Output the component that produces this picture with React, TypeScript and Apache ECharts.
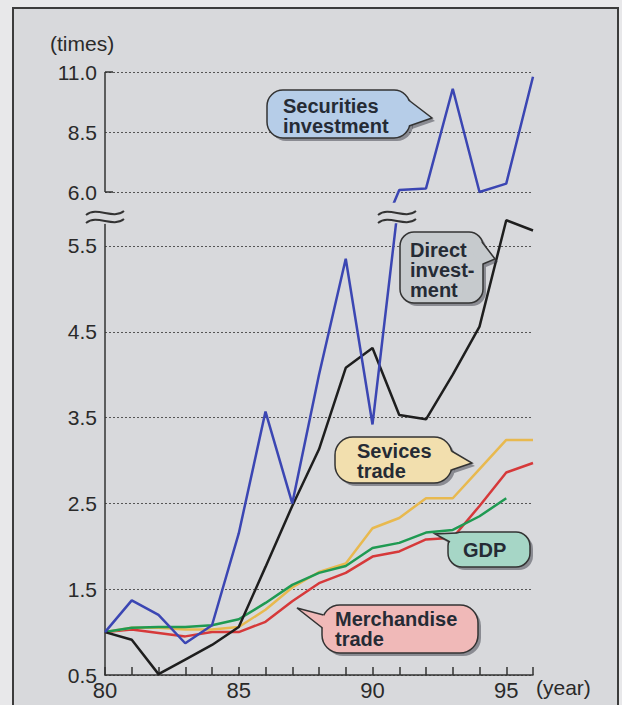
import React, { useEffect, useRef } from 'react';
import * as echarts from 'echarts';

// ---- data ----
const years = [80, 81, 82, 83, 84, 85, 86, 87, 88, 89, 90, 91, 92, 93, 94, 95, 96];
const securities = [1.0, 1.37, 1.2, 0.87, 1.08, 2.15, 3.57, 2.5, 4.0, 5.35, 3.42, 6.08, 6.15, 10.3, 6.0, 6.35, 10.8];
const direct = [1.0, 0.91, 0.51, 0.68, 0.85, 1.06, 1.76, 2.47, 3.13, 4.08, 4.31, 3.53, 3.48, 4.0, 4.56, 5.8, 5.68];
const services = [1.0, 1.05, 1.05, 1.03, 1.03, 1.06, 1.26, 1.52, 1.7, 1.8, 2.21, 2.33, 2.56, 2.56, 2.9, 3.24, 3.24];
const gdp = [1.0, 1.05, 1.06, 1.06, 1.08, 1.15, 1.34, 1.55, 1.69, 1.77, 1.98, 2.04, 2.16, 2.19, 2.35, 2.56];
const merchandise = [1.0, 1.03, 0.99, 0.95, 1.0, 1.0, 1.12, 1.36, 1.57, 1.69, 1.88, 1.94, 2.08, 2.1, 2.47, 2.86, 2.97];

const yTicksLower = [0.5, 1.5, 2.5, 3.5, 4.5, 5.5];
const yTicksUpper = [6.0, 8.5, 11.0];
const xLabelYears = [80, 85, 90, 95];

const FONT = '"Liberation Sans", Arial, Helvetica, sans-serif';
const AXIS = '#333333';
const LABEL = '#2a2a2a';

function pairs(vals: number[]) {
  return vals.map((v, i) => [years[i], v]);
}

function callout(
  rect: [number, number, number, number],
  r: number,
  fill: string,
  tail: number[][],
  inner: number[],
  text: string,
  tx: number,
  ty: number,
  lh: number
) {
  const [x, y, w, h] = rect;
  const sh = 3;
  const shadow = 'rgba(60,62,72,0.5)';
  return [
    { type: 'rect', z: 50, shape: { x: x + sh, y: y + sh, width: w, height: h, r }, style: { fill: shadow } },
    { type: 'polygon', z: 50, shape: { points: tail.map((p) => [p[0] + sh, p[1] + sh]) }, style: { fill: shadow } },
    { type: 'rect', z: 51, shape: { x, y, width: w, height: h, r }, style: { fill, stroke: '#333', lineWidth: 1.5 } },
    { type: 'polygon', z: 52, shape: { points: [tail[0], tail[1], tail[2], inner] }, style: { fill } },
    { type: 'polyline', z: 53, shape: { points: tail }, style: { stroke: '#333', lineWidth: 1.5, fill: null } },
    {
      type: 'text', z: 54, x: tx, y: ty,
      style: { text, fontFamily: FONT, fontSize: 20, fontWeight: 'bold', fill: '#252b35', lineHeight: lh, verticalAlign: 'middle', align: 'left' },
    },
  ];
}

function breakMark(cx: number, cy: number) {
  const mk = (yy: number) => ({
    type: 'bezierCurve', z: 40,
    shape: { x1: cx - 19, y1: yy + 2, cpx1: cx - 8, cpy1: yy - 7, cpx2: cx + 8, cpy2: yy + 7, x2: cx + 19, y2: yy - 2 },
    style: { stroke: '#333', lineWidth: 2, fill: null },
  });
  return [mk(cy - 4), mk(cy + 4)];
}

export default function App() {
  const ref = useRef<HTMLDivElement>(null);
  useEffect(() => {
    if (!ref.current) return;
    const chart = echarts.init(ref.current, null, { renderer: 'svg' });
    const lineSeries = (name: string, vals: number[], color: string, extra: any = {}) => ({
      name, type: 'line', data: pairs(vals), symbol: 'none', showSymbol: false,
      lineStyle: { color, width: 2.5 }, itemStyle: { color }, silent: true,
      xAxisIndex: 0, yAxisIndex: 0, ...extra,
    });
    const yLabel = {
      color: LABEL, fontSize: 21, fontFamily: FONT, margin: 8,
      formatter: (v: number) => Number(v).toFixed(1),
      showMinLabel: true, showMaxLabel: true, hideOverlap: false,
    };
    const gridLine = { show: true, lineStyle: { type: [2, 2], color: '#555', width: 1 } };
    const option: any = {
      animation: false,
      backgroundColor: '#d8d9dc',
      textStyle: { fontFamily: FONT },
      grid: [
        { left: 105, right: 89, top: 224.5, bottom: 30, outerBoundsMode: 'none', containLabel: false },
        { left: 105, right: 89, top: 72, bottom: 705 - 201.6, outerBoundsMode: 'none', containLabel: false },
      ],
      xAxis: [
        {
          gridIndex: 0, type: 'value', min: 80, max: 96, interval: 1,
          axisLine: { show: true, onZero: false, lineStyle: { color: AXIS, width: 1.5 } },
          axisTick: { show: true, inside: true, length: 8, lineStyle: { color: AXIS, width: 1.5 } },
          axisLabel: {
            color: LABEL, fontSize: 22, fontFamily: FONT, margin: 4,
            formatter: (v: number) => (xLabelYears.includes(v) ? String(v) : ''),
            showMinLabel: true, showMaxLabel: true, hideOverlap: false,
          },
          splitLine: { show: false },
        },
        { gridIndex: 1, type: 'value', min: 80, max: 96, show: false },
      ],
      yAxis: [
        {
          gridIndex: 0, type: 'value', min: 0.5, max: 5.75,
          axisLine: { show: true, lineStyle: { color: AXIS, width: 1.5 } },
          axisTick: { show: false, customValues: yTicksLower },
          axisLabel: { ...yLabel, customValues: yTicksLower },
          splitLine: gridLine,
        },
        {
          gridIndex: 1, type: 'value', min: 5.6, max: 11,
          axisLine: { show: false },
          axisTick: { show: false, customValues: yTicksUpper },
          axisLabel: { ...yLabel, customValues: yTicksUpper },
          splitLine: gridLine,
        },
      ],
      series: [
        lineSeries('Merchandise trade', merchandise, '#d6393a'),
        lineSeries('Services trade', services, '#e8b94f'),
        lineSeries('GDP', gdp, '#1f9a52'),
        lineSeries('Direct investment', direct, '#1e1e1e', { clip: false }),
        lineSeries('Securities investment', securities, '#3b46b3'),
        lineSeries('Securities investment (upper)', securities, '#3b46b3', {
          xAxisIndex: 1, yAxisIndex: 1,
          markLine: {
            silent: true, symbol: ['none', 'none'], label: { show: false },
            lineStyle: { type: 'solid', color: AXIS, width: 1.5 },
            emphasis: { disabled: true },
            data: [
              [{ coord: [80, 6] }, { coord: [80, 11] }],
              [{ coord: [80, 11] }, { coord: [80.3, 11] }],
              [{ coord: [80, 6] }, { coord: [80.3, 6] }],
            ],
          },
        }),
      ],
      graphic: [
        // surroundings and frame
        { type: 'rect', z: 1, shape: { x: 0, y: 0, width: 13, height: 705 }, style: { fill: '#e8e8ea' } },
        { type: 'rect', z: 1, shape: { x: 0, y: 0, width: 622, height: 8 }, style: { fill: '#e8e8ea' } },
        { type: 'rect', z: 1, shape: { x: 618, y: 0, width: 4, height: 705 }, style: { fill: '#e8e8ea' } },
        { type: 'rect', z: 2, shape: { x: 13, y: 8, width: 605, height: 720 }, style: { fill: null, stroke: '#3c3c3c', lineWidth: 2 } },
        { type: 'text', z: 5, x: 50, y: 43, style: { text: '(times)', fontFamily: FONT, fontSize: 21, fill: LABEL, verticalAlign: 'middle' } },
        { type: 'text', z: 5, x: 536, y: 687, style: { text: '(year)', fontFamily: FONT, fontSize: 21, fill: LABEL, verticalAlign: 'middle' } },
        ...breakMark(105, 217),
        ...breakMark(397, 217),
        ...callout([267, 90, 143, 48], 16, '#b6cde8',
          [[408.5, 100], [432, 118], [409, 126]], [396, 113], 'Securities\ninvestment', 283, 116, 20),
        ...callout([400, 232, 83, 71], 14, '#c6cacd',
          [[482, 242], [495, 259], [483, 264]], [472, 252], 'Direct\ninvest-\nment', 410, 270, 20),
        ...callout([335, 437, 117, 46], 18, '#f2dfae',
          [[451.5, 451], [472, 463], [451.3, 470]], [442, 460], 'Sevices\ntrade', 357, 461, 20),
        ...callout([448, 532, 82, 35], 14, '#a6d6c6',
          [[457, 533], [435, 534], [450, 542]], [458, 542], 'GDP', 463, 550, 20),
        ...callout([322, 605, 156, 48], 18, '#f0b9b8',
          [[323.5, 615], [297, 608], [322.5, 628]], [332, 622], 'Merchandise\ntrade', 335, 629, 20),
      ],
    };
    chart.setOption(option);
    return () => chart.dispose();
  }, []);
  return <div ref={ref} style={{ position: 'fixed', left: 0, top: 0, width: 622, height: 705 }} />;
}
